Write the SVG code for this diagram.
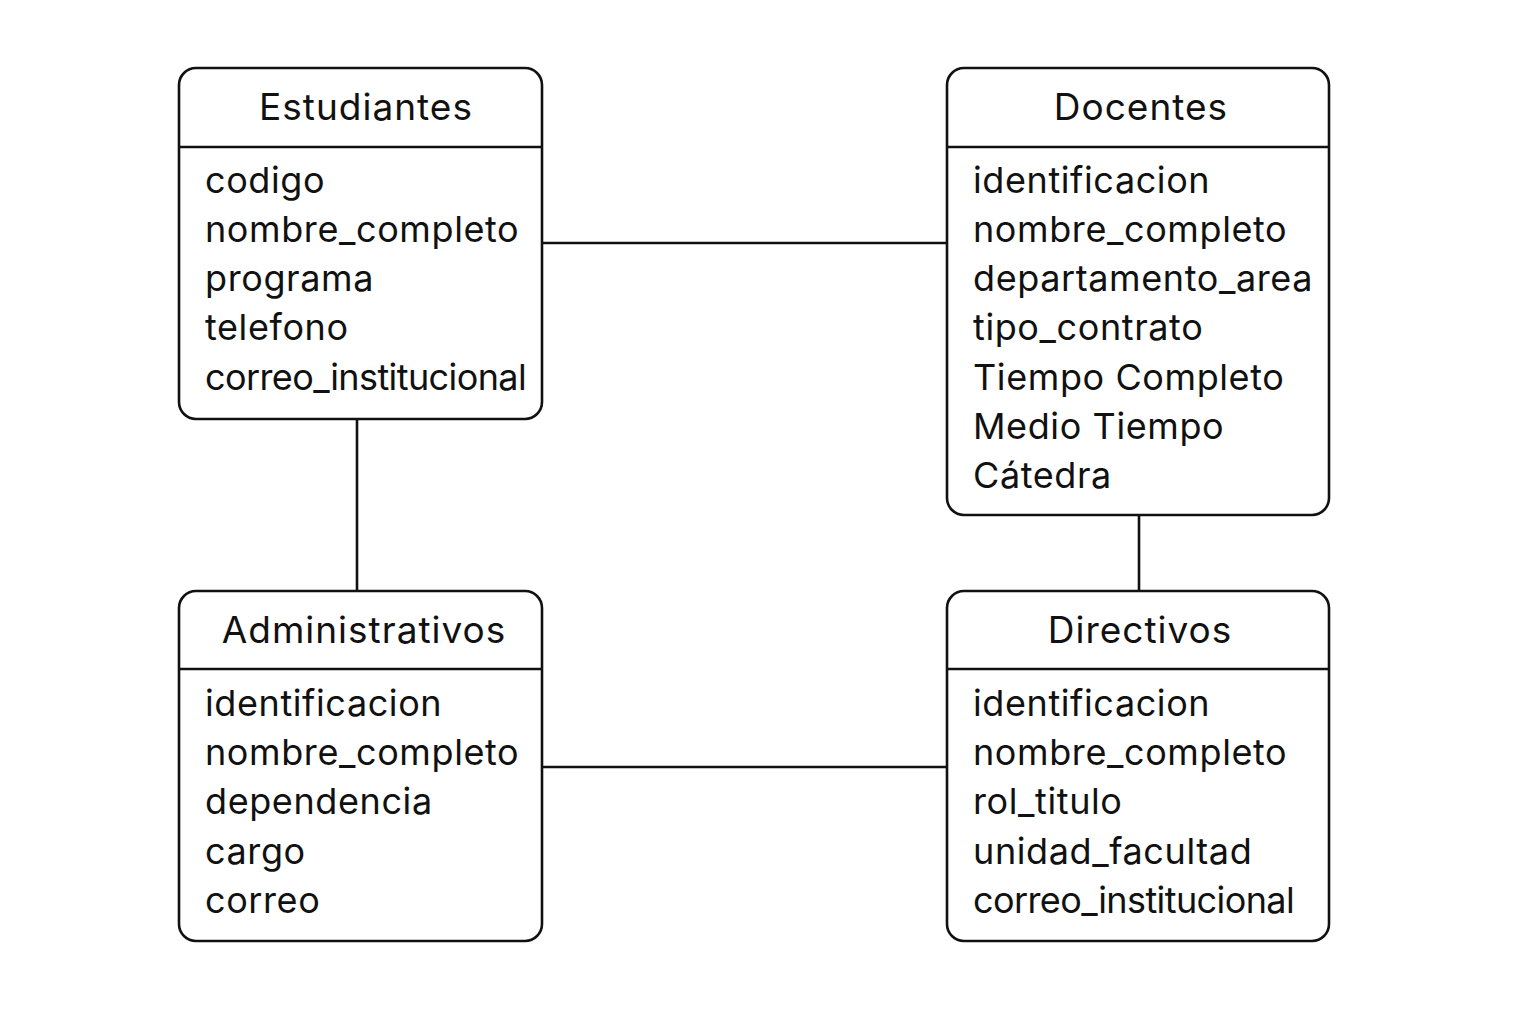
<svg xmlns="http://www.w3.org/2000/svg" width="1536" height="1024" viewBox="0 0 1536 1024">
<style>
.box{fill:#fff;stroke:#111;stroke-width:2.6}
.sep{stroke:#111;stroke-width:2.6}
.conn{stroke:#111;stroke-width:2.6;fill:none}
.title{font-family:Inter,"Noto Sans",sans-serif;font-size:37px;letter-spacing:1px;fill:#111;text-anchor:middle}
.attr{font-family:Inter,"Noto Sans",sans-serif;font-size:36px;letter-spacing:0.6px;fill:#111}
.tight{letter-spacing:-0.6px}
</style>
<rect width="1536" height="1024" fill="#fff"/>
<g id="connectors">
<line class="conn" x1="542" y1="243" x2="947" y2="243"/>
<line class="conn" x1="357" y1="419" x2="357" y2="591"/>
<line class="conn" x1="1139" y1="515" x2="1139" y2="591"/>
<line class="conn" x1="542" y1="767" x2="947" y2="767"/>
</g>
<g id="estudiantes">
<rect class="box" x="179" y="68" width="363" height="351" rx="17"/>
<line class="sep" x1="179" y1="147" x2="542" y2="147"/>
<text class="title" x="366" y="120">Estudiantes</text>
<text class="attr" x="205" y="193">codigo</text>
<text class="attr" x="205" y="242">nombre_completo</text>
<text class="attr" x="205" y="291">programa</text>
<text class="attr" x="205" y="340">telefono</text>
<text class="attr tight" x="205" y="390">correo_institucional</text>
</g>
<g id="docentes">
<rect class="box" x="947" y="68" width="382" height="447" rx="17"/>
<line class="sep" x1="947" y1="147" x2="1329" y2="147"/>
<text class="title" x="1141" y="120">Docentes</text>
<text class="attr" x="973" y="193">identificacion</text>
<text class="attr" x="973" y="242">nombre_completo</text>
<text class="attr" x="973" y="291">departamento_area</text>
<text class="attr" x="973" y="340">tipo_contrato</text>
<text class="attr" x="973" y="390">Tiempo Completo</text>
<text class="attr" x="973" y="439">Medio Tiempo</text>
<text class="attr" x="973" y="488">Cátedra</text>
</g>
<g id="administrativos">
<rect class="box" x="179" y="591" width="363" height="350" rx="17"/>
<line class="sep" x1="179" y1="669" x2="542" y2="669"/>
<text class="title" x="364" y="643">Administrativos</text>
<text class="attr" x="205" y="716">identificacion</text>
<text class="attr" x="205" y="765">nombre_completo</text>
<text class="attr" x="205" y="814">dependencia</text>
<text class="attr" x="205" y="864">cargo</text>
<text class="attr" x="205" y="913">correo</text>
</g>
<g id="directivos">
<rect class="box" x="947" y="591" width="382" height="350" rx="17"/>
<line class="sep" x1="947" y1="669" x2="1329" y2="669"/>
<text class="title" x="1140" y="643">Directivos</text>
<text class="attr" x="973" y="716">identificacion</text>
<text class="attr" x="973" y="765">nombre_completo</text>
<text class="attr" x="973" y="814">rol_titulo</text>
<text class="attr" x="973" y="864">unidad_facultad</text>
<text class="attr tight" x="973" y="913">correo_institucional</text>
</g>
</svg>
